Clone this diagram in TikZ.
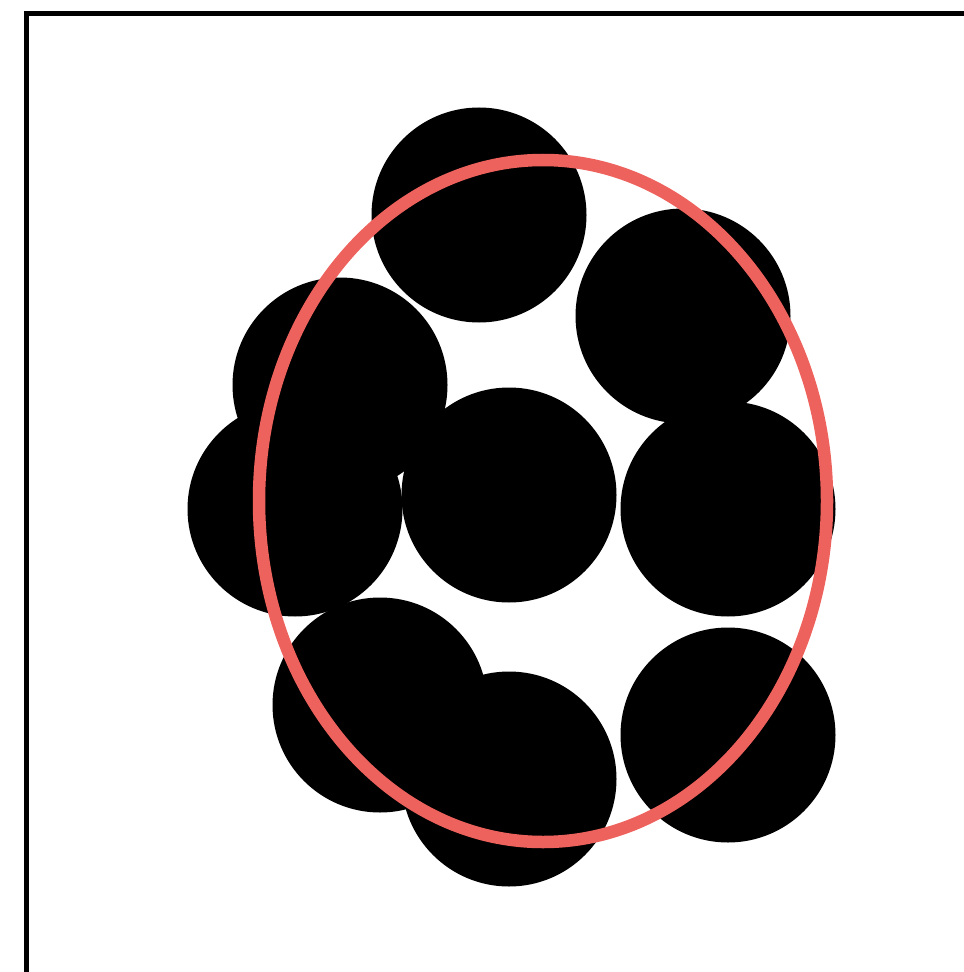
\documentclass[tikz,border=0pt]{standalone}
\usepackage{tikz}
\definecolor{ringred}{RGB}{238, 98, 93}

\begin{document}
\begin{tikzpicture}[x=0.1mm, y=-0.1mm,
    blob/.style={fill=black},
    ring/.style={draw=ringred, line width=1.25mm},
    frameline/.style={draw=black, line width=0.5mm}]
    % Khung hình
    \useasboundingbox (0,0) rectangle (963,972);
    \draw[frameline] (26.5,980) -- (26.5,13.5) -- (975,13.5);

    % Các hình tròn đen
    \foreach \cx/\cy in {479/215, 683/316, 340/385, 295/509, 509/495,
                         728/509, 380/705, 509/779, 728/735}
        \fill[blob] (\cx,\cy) circle (107.5);

    % Hình elip màu đỏ
    \draw[ring] (543,501) ellipse [x radius=284, y radius=341];
\end{tikzpicture}
\end{document}
